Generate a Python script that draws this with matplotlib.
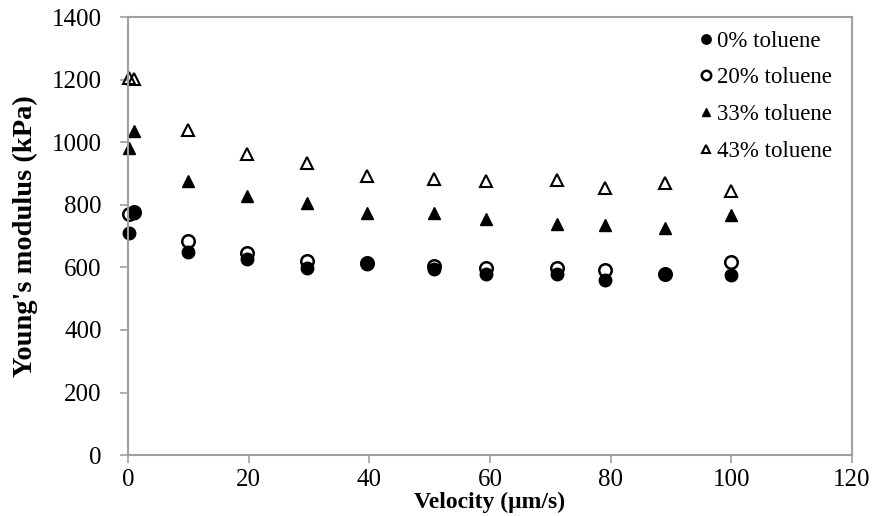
import matplotlib
matplotlib.use("Agg")
import matplotlib.pyplot as plt

plt.rcParams['font.family'] = ['Liberation Serif', 'DejaVu Serif']

velocity = [0.1, 1, 10, 19.8, 29.7, 39.6, 50.7, 59.3, 71.1, 79.1, 89.0, 100]
tol_0 = [710, 775, 650, 628, 598, 610, 595, 580, 580, 560, 580, 575]
tol_20 = [770, 778, 683, 645, 620, 615, 603, 597, 597, 593, 578, 617]
tol_33 = [980, 1035, 875, 828, 805, 773, 773, 755, 738, 735, 725, 768]
tol_43 = [1205, 1203, 1038, 962, 932, 893, 882, 877, 880, 853, 868, 843]
labels = ['0% toluene', '20% toluene', '33% toluene', '43% toluene']

fig = plt.figure(figsize=(8.77, 5.16), dpi=100)
ax = fig.add_axes([0.146, 0.118, 0.8255, 0.849])

ax.plot(velocity, tol_0, 'o', color='black', ms=9, label=labels[0], clip_on=False)
ax.plot(velocity, tol_20, 'o', mfc='none', mec='black', mew=1.8, ms=9, label=labels[1], clip_on=False)
ax.plot(velocity, tol_33, '^', color='black', ms=8, label=labels[2], clip_on=False)
ax.plot(velocity, tol_43, '^', mfc='none', mec='black', mew=1.5, ms=8.5, label=labels[3], clip_on=False)

ax.set_xlim(0, 120)
ax.set_ylim(0, 1400)
ax.set_xticks(range(0, 121, 20))
ax.set_yticks(range(0, 1401, 200))
ax.tick_params(labelsize=18, length=6, color='#a0a0a0', width=1.2)
ax.tick_params(axis='y', pad=13)
ax.tick_params(axis='x', pad=4)
for s in ax.spines.values():
    s.set_color('#a0a0a0')
    s.set_linewidth(1.5)

ax.set_xlabel('Velocity (μm/s)', fontsize=17, fontweight='bold')
ax.set_ylabel("Young's modulus (kPa)", fontsize=20.5, fontweight='bold')
ax.xaxis.set_label_coords(0.5, -0.084)
ax.yaxis.set_label_coords(-0.125, 0.5)

leg = ax.legend(loc='upper right', frameon=False, fontsize=16.5, markerscale=0.75,
                handlelength=0.5, handletextpad=0.25, labelspacing=0.68,
                bbox_to_anchor=(0.992, 1.0), borderaxespad=0.2)

fig.savefig('out.png', dpi=100)
